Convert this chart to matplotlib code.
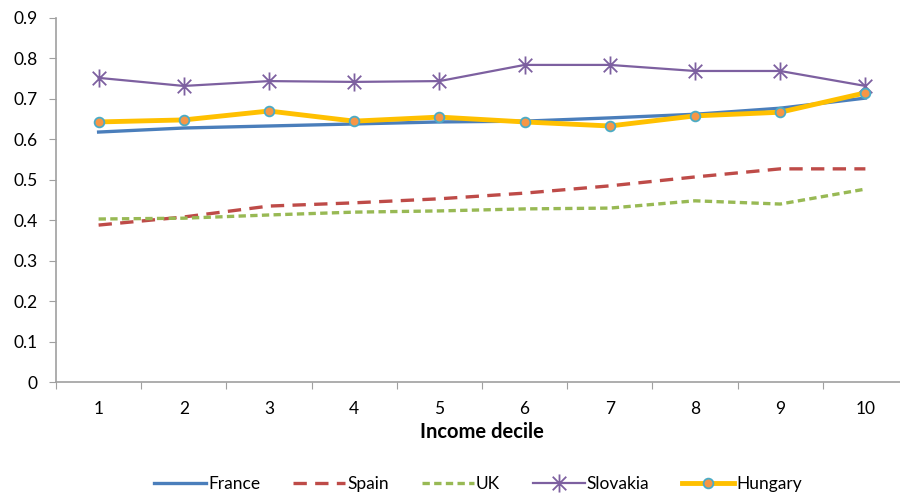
import matplotlib
matplotlib.use("Agg")
import matplotlib.pyplot as plt
from matplotlib.path import Path
import numpy as np

deciles = [1, 2, 3, 4, 5, 6, 7, 8, 9, 10]
france = [0.618, 0.628, 0.633, 0.638, 0.643, 0.645, 0.653, 0.662, 0.677, 0.702]
spain = [0.388, 0.408, 0.435, 0.443, 0.453, 0.467, 0.485, 0.507, 0.527, 0.527]
uk = [0.403, 0.405, 0.413, 0.420, 0.423, 0.428, 0.430, 0.448, 0.440, 0.477]
slovakia = [0.752, 0.732, 0.744, 0.742, 0.744, 0.784, 0.784, 0.769, 0.769, 0.732]
hungary = [0.643, 0.648, 0.670, 0.645, 0.655, 0.643, 0.633, 0.658, 0.667, 0.715]

plt.rcParams['font.family'] = ['Lato', 'DejaVu Sans']

# excel-style star: vertical bar plus an x
star = Path([(0, -1), (0, 1), (-0.75, -0.75), (0.75, 0.75), (-0.75, 0.75), (0.75, -0.75)],
            [Path.MOVETO, Path.LINETO, Path.MOVETO, Path.LINETO, Path.MOVETO, Path.LINETO])

fig = plt.figure(figsize=(9, 4.94), dpi=100)
ax = fig.add_axes([56 / 900, 112 / 494, 852 / 900, 364 / 494])

ax.plot(deciles, france, color='#4a7ebb', lw=2.4, label='France', zorder=3)
ax.plot(deciles, spain, color='#be4b48', lw=2.4, dashes=(4, 2.5), label='Spain', zorder=3)
ax.plot(deciles, uk, color='#98b954', lw=2.4, dashes=(2.2, 1.3), label='UK', zorder=3)
ax.plot(deciles, slovakia, color='#7d60a0', lw=1.6, marker=star, markersize=13,
        markeredgewidth=1.3, label='Slovakia', zorder=4)
ax.plot(deciles, hungary, color='#ffc000', lw=3.5, marker='o', markersize=7,
        markerfacecolor='#f79646', markeredgecolor='#4bacc6', markeredgewidth=1.3,
        label='Hungary', zorder=5)

ax.set_xlim(0.5, 10.5)
ax.set_ylim(0, 0.9)
ax.set_yticks(np.arange(0, 0.91, 0.1))
ax.set_yticklabels(['0'] + ['%.1f' % v for v in np.arange(0.1, 0.91, 0.1)], fontsize=12.5)

ax.set_xticks(np.arange(0.5, 10.6, 1))
ax.set_xticklabels([])
ax.set_xticks(deciles, minor=True)
ax.set_xticklabels([str(d) for d in deciles], minor=True, fontsize=12.5)
ax.tick_params(axis='x', which='minor', length=0, pad=14)
ax.tick_params(axis='x', which='major', length=5, color='#a0a0a0')
ax.tick_params(axis='y', length=5, color='#a0a0a0', pad=8)

for s in ['top', 'right']:
    ax.spines[s].set_visible(False)
for s in ['left', 'bottom']:
    ax.spines[s].set_color('#a0a0a0')
    ax.spines[s].set_linewidth(1.2)

ax.set_xlabel('Income decile', fontsize=14.5, fontweight='bold', labelpad=3)

fig.legend(loc='center', bbox_to_anchor=(478 / 900, 10 / 494), ncol=5, frameon=False,
           fontsize=12.5, handlelength=3.0, handletextpad=0.1, columnspacing=1.9)

fig.savefig('out.png', dpi=100)
